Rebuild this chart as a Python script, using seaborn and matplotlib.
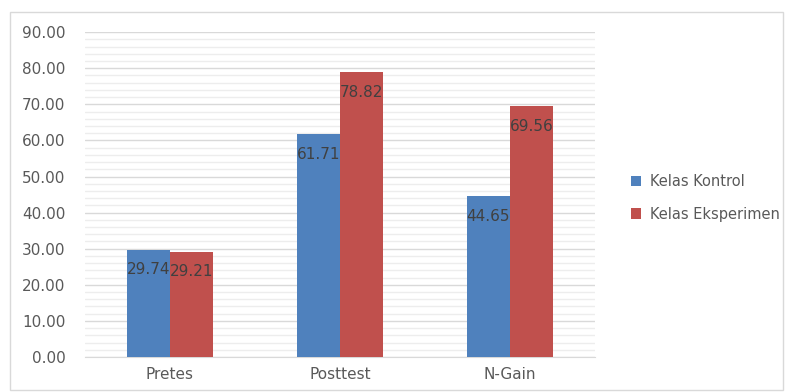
import pandas as pd
import seaborn as sns
import matplotlib.pyplot as plt
from matplotlib.patches import Rectangle
from matplotlib.ticker import MultipleLocator, FormatStrFormatter

categories = ['Pretes', 'Posttest', 'N-Gain']
kontrol = [29.74, 61.71, 44.65]
eksperimen = [29.21, 78.82, 69.56]
series = ['Kelas Kontrol', 'Kelas Eksperimen']

df = pd.DataFrame({
    'kategori': categories * 2,
    'nilai': kontrol + eksperimen,
    'kelas': [series[0]] * 3 + [series[1]] * 3,
})

sns.set_style('white')
plt.rcParams['font.family'] = ['DejaVu Sans']

fig = plt.figure(figsize=(7.89, 3.92), dpi=100)
ax = fig.add_axes([0.1077, 0.0893, 0.6463, 0.8287])

sns.barplot(data=df, x='kategori', y='nilai', hue='kelas', order=categories,
            hue_order=series, palette=['#4F81BD', '#C0504D'], width=0.51,
            saturation=1, linewidth=0, ax=ax, zorder=3)

for c in ax.containers:
    ax.bar_label(c, fmt='%.2f', padding=-20, fontsize=11, color='#404040')

ax.set_ylim(0, 90)
ax.set_xlim(-0.5, 2.5)
ax.yaxis.set_major_locator(MultipleLocator(10))
ax.yaxis.set_minor_locator(MultipleLocator(2))
ax.yaxis.set_major_formatter(FormatStrFormatter('%.2f'))
ax.grid(axis='y', which='major', color='#D9D9D9', linewidth=1, zorder=0)
ax.grid(axis='y', which='minor', color='#EDEDED', linewidth=1, zorder=0)
ax.set_axisbelow(True)
for s in ['top', 'right', 'left']:
    ax.spines[s].set_visible(False)
ax.spines['bottom'].set_color('#D9D9D9')
ax.tick_params(axis='both', which='both', length=0, labelsize=11, colors='#595959')
ax.tick_params(axis='y', pad=14)
ax.tick_params(axis='x', pad=7)
ax.set_xlabel('')
ax.set_ylabel('')

ax.legend(loc='center left', bbox_to_anchor=(1.045, 0.49), frameon=False,
          fontsize=10.5, labelcolor='#595959', handlelength=0.7, handleheight=0.7,
          labelspacing=1.2, handletextpad=0.6)

fig.patches.append(Rectangle((10 / 789, 2 / 392), 773 / 789, 378 / 392,
                             transform=fig.transFigure, fill=False,
                             edgecolor='#D9D9D9', linewidth=1))

fig.savefig('out.png', dpi=100)
